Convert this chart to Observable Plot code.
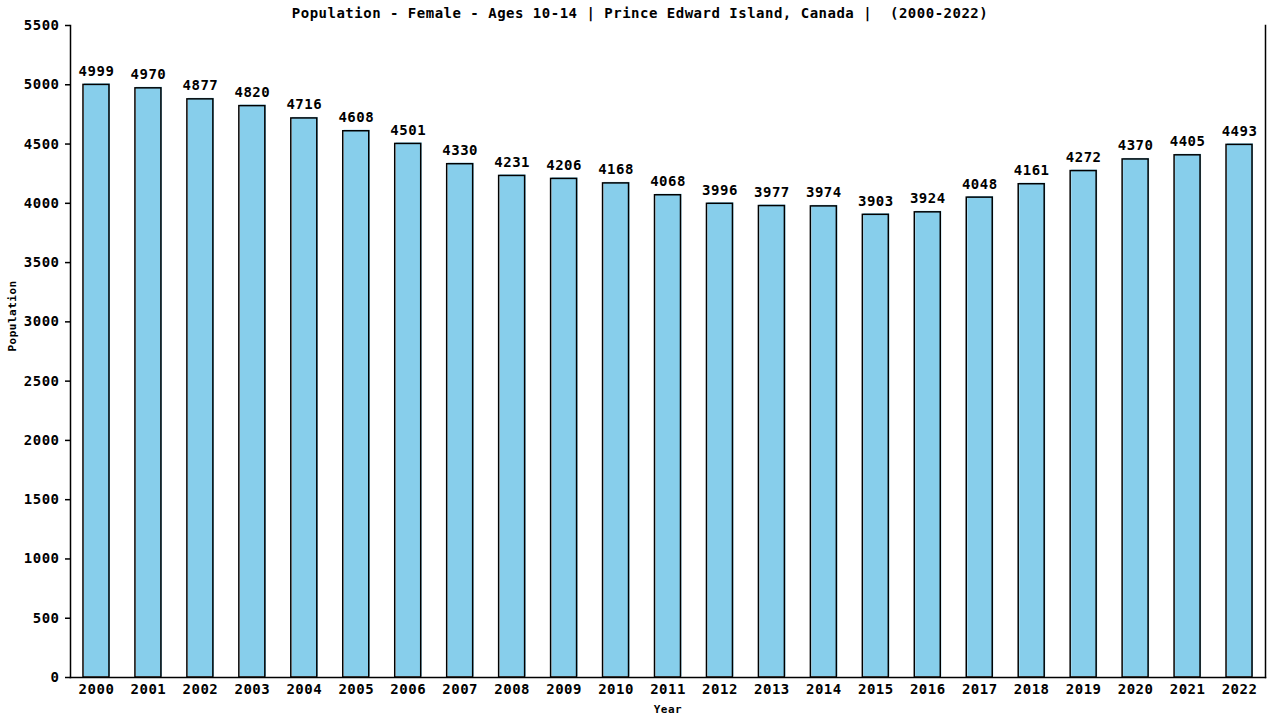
<!DOCTYPE html>
<html><head><meta charset="utf-8">
<script src="https://cdn.jsdelivr.net/npm/d3@7"></script>
<script src="https://cdn.jsdelivr.net/npm/@observablehq/plot@0.6"></script>
<style>
body{margin:0;background:#fff;}
svg{display:block;}
</style>
</head><body>
<div id="chart"></div>
<script>
const years = ["2000","2001","2002","2003","2004","2005","2006","2007","2008","2009","2010","2011","2012","2013","2014","2015","2016","2017","2018","2019","2020","2021","2022"];
const population = [4999,4970,4877,4820,4716,4608,4501,4330,4231,4206,4168,4068,3996,3977,3974,3903,3924,4048,4161,4272,4370,4405,4493];
const yTicks = [0,500,1000,1500,2000,2500,3000,3500,4000,4500,5000,5500];
const title = "Population - Female - Ages 10-14 | Prince Edward Island, Canada |  (2000-2022)";

const data = years.map((y,i)=>({year:y, value:population[i]}));
const font = "'DejaVu Sans Mono', monospace";

const chart = Plot.plot({
  width: 1280,
  height: 720,
  marginTop: 25,
  marginBottom: 43,
  marginLeft: 70,
  marginRight: 15,
  style: {fontFamily: font, fontSize: "14px", fontWeight: "bold", color: "#000", background: "#fff", letterSpacing: "0.5px"},
  x: {domain: years, paddingInner: 0.5, paddingOuter: 0.25, round: false, label: null},
  y: {domain: [0, 5500], label: null},
  marks: [
    Plot.barY(data, {x: "year", y: "value", fill: "#87CEEB", dx: 1, dy: -1}),
    Plot.barY(data, {x: "year", y: "value", fill: "none", stroke: "#000", strokeWidth: 1.5}),
    Plot.text(data, {x: "year", y: "value", text: d => String(d.value), lineAnchor: "bottom", dy: -9, fontSize: 14, fontWeight: "bold", fill: "#000"}),
    Plot.axisY({ticks: yTicks, tickFormat: "d", tickSize: 5, tickPadding: 6, fontSize: 14, fontWeight: "bold", label: null, strokeWidth: 1.5}),
    Plot.axisX({tickSize: 0, tickPadding: 7, fontSize: 14, fontWeight: "bold", label: null}),
    Plot.frame({anchor: "left", strokeWidth: 1.5}),
    Plot.frame({anchor: "right", strokeWidth: 1.5}),
    Plot.frame({anchor: "bottom", strokeWidth: 1.5}),
    Plot.text([title], {frameAnchor: "top", lineAnchor: "middle", dy: -12, dx: -28, fontSize: 14, fontWeight: "bold", fill: "#000"}),
    Plot.text(["Year"], {frameAnchor: "bottom", lineAnchor: "middle", dy: 32, fontSize: 11, fontWeight: "bold", fill: "#000"}),
    Plot.text(["Population"], {frameAnchor: "left", dx: -58, rotate: -90, fontSize: 11, fontWeight: "bold", fill: "#000"})
  ]
});
document.getElementById("chart").appendChild(chart);
</script>
</body></html>
